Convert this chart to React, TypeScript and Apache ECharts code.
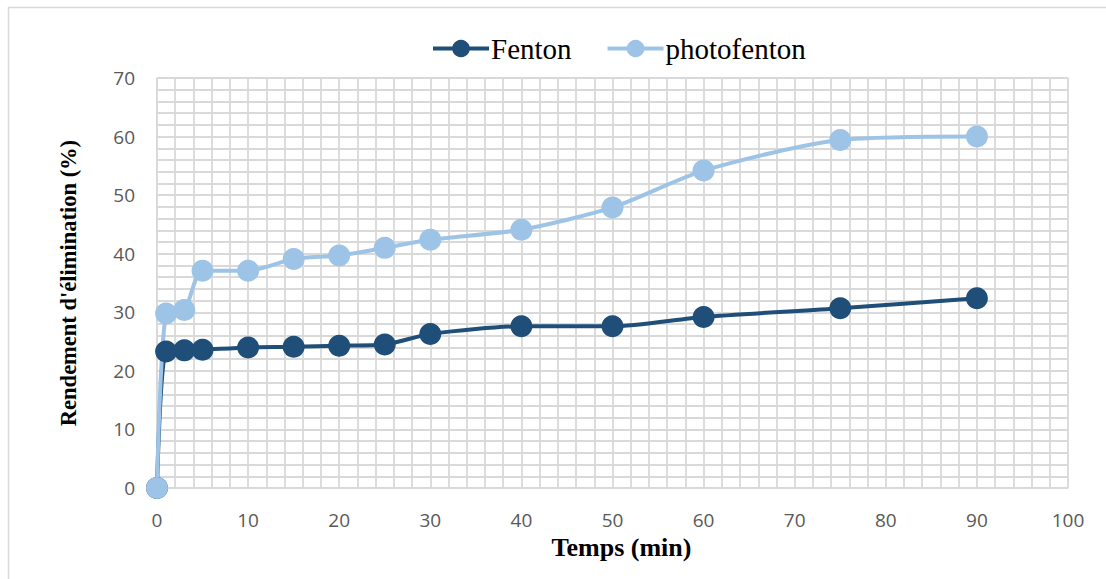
import React, { useEffect, useRef } from "react";
import * as echarts from "echarts";

const timeMin = [0, 1, 3, 5, 10, 15, 20, 25, 30, 40, 50, 60, 75, 90];
const fenton = [0, 23.3, 23.5, 23.6, 24.0, 24.1, 24.3, 24.5, 26.3, 27.6, 27.6, 29.2, 30.7, 32.4];
const photofenton = [0, 29.8, 30.4, 37.1, 37.1, 39.1, 39.7, 41.0, 42.4, 44.1, 47.9, 54.2, 59.4, 60.0];
const seriesNames = ["Fenton", "photofenton"];

export default function App() {
  const ref = useRef<HTMLDivElement>(null);
  useEffect(() => {
    const chart = echarts.init(ref.current!, undefined, { renderer: "svg" });
    const pair = (ys: number[]) => timeMin.map((t, i) => [t, ys[i]]);
    const serif = "'Liberation Serif', 'Times New Roman', serif";
    const sans = "'Open Sans', 'Noto Sans', sans-serif";
    chart.setOption({
      animation: false,
      backgroundColor: "#ffffff",
      graphic: [
        {
          type: "rect",
          shape: { x: 8.5, y: 7.5, width: 1120, height: 620 },
          style: { fill: "none", stroke: "#d9d9d9", lineWidth: 1.5 },
          silent: true,
        },
      ],
      legend: {
        top: 29,
        left: 426,
        itemWidth: 56,
        itemHeight: 22,
        itemGap: 34,
        lineStyle: { width: 4 },
        textStyle: { fontFamily: serif, fontSize: 29, color: "#000", padding: [0, 0, 0, -3] },
        data: seriesNames,
      },
      grid: { left: 157, right: 38, top: 78, bottom: 91, containLabel: false },
      xAxis: {
        type: "value",
        min: 0,
        max: 100,
        interval: 10,
        name: "Temps (min)",
        nameLocation: "middle",
        nameGap: 46,
        nameTextStyle: {
          fontFamily: serif,
          fontSize: 26,
          fontWeight: "bold",
          color: "#000",
          padding: [0, 0, 0, 18],
        },
        axisLine: { show: true, lineStyle: { color: "#d9d9d9", width: 1.5 } },
        axisTick: { show: false },
        axisLabel: { color: "#595959", fontSize: 19, fontFamily: sans, margin: 22 },
        splitLine: { show: true, lineStyle: { color: "#d9d9d9", width: 1.8 } },
        minorTick: { show: false, splitNumber: 5 },
        minorSplitLine: { show: true, lineStyle: { color: "#d9d9d9", width: 1.8 } },
      },
      yAxis: {
        type: "value",
        min: 0,
        max: 70,
        interval: 10,
        name: "Rendement d'élimination (%)",
        nameLocation: "middle",
        nameGap: 77,
        nameTextStyle: { fontFamily: serif, fontSize: 22.5, fontWeight: "bold", color: "#000" },
        axisLine: { show: true, lineStyle: { color: "#d9d9d9", width: 1.5 } },
        axisTick: { show: false },
        axisLabel: { color: "#595959", fontSize: 19, fontFamily: sans, margin: 22 },
        splitLine: { show: true, lineStyle: { color: "#d9d9d9", width: 1.8 } },
        minorTick: { show: false, splitNumber: 5 },
        minorSplitLine: { show: true, lineStyle: { color: "#d9d9d9", width: 1.8 } },
      },
      series: [
        {
          name: seriesNames[0],
          type: "line",
          data: pair(fenton),
          smooth: 0.25,
          symbol: "circle",
          symbolSize: 22,
          lineStyle: { color: "#1f4e79", width: 4 },
          itemStyle: { color: "#1f4e79" },
        },
        {
          name: seriesNames[1],
          type: "line",
          data: pair(photofenton),
          smooth: 0.25,
          symbol: "circle",
          symbolSize: 22,
          lineStyle: { color: "#9dc3e6", width: 4 },
          itemStyle: { color: "#9dc3e6" },
        },
      ],
    });
    return () => chart.dispose();
  }, []);
  return (
    <div
      ref={ref}
      style={{ position: "absolute", left: 0, top: 0, width: 1106, height: 579 }}
    />
  );
}
